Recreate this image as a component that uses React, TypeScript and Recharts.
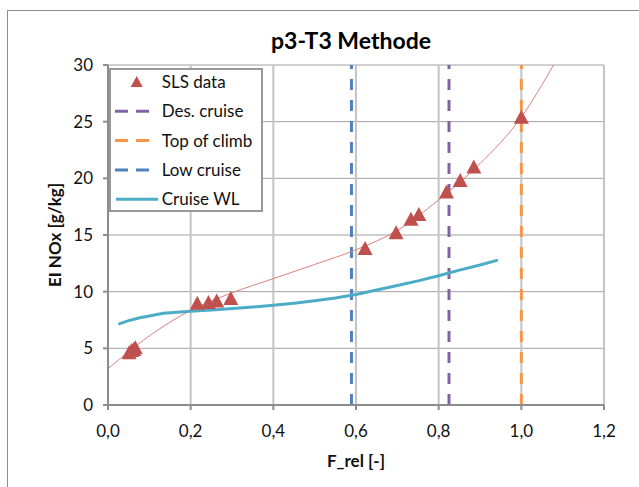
import { ComposedChart, Line, Scatter, XAxis, YAxis, CartesianGrid, Legend } from "recharts";

const FONT = "Lato, 'Open Sans', sans-serif";

const X_TICKS = [0, 0.2, 0.4, 0.6, 0.8, 1.0, 1.2];
const Y_TICKS = [0, 5, 10, 15, 20, 25, 30];

// SLS measurement points
const SLS_X = [0.051, 0.057, 0.062, 0.066, 0.216, 0.243, 0.263, 0.297, 0.622, 0.697, 0.733, 0.752, 0.819, 0.852, 0.885, 1.0];
const SLS_Y = [4.6, 4.8, 4.9, 5.05, 8.98, 9.04, 9.18, 9.4, 13.8, 15.2, 16.4, 16.8, 18.8, 19.8, 21.0, 25.4];

// cruise WL curve
const WL_X = [0.025, 0.05, 0.077, 0.1, 0.134, 0.2, 0.26, 0.335, 0.4, 0.45, 0.5, 0.55, 0.6, 0.65, 0.7, 0.75, 0.8, 0.85, 0.9, 0.943];
const WL_Y = [7.14, 7.45, 7.7, 7.85, 8.1, 8.28, 8.4, 8.6, 8.8, 8.98, 9.2, 9.45, 9.75, 10.15, 10.55, 10.95, 11.4, 11.9, 12.35, 12.78];

// polynomial trend of SLS data
const TREND_X = [0, 0.1, 0.2, 0.3, 0.4, 0.5, 0.6, 0.7, 0.8, 0.9, 1.0, 1.078];
const TREND_Y = [3.2, 6.1, 8.35, 9.9, 11.15, 12.4, 13.7, 15.4, 18.1, 21.3, 25.4, 30];

const LOW_CRUISE_X = 0.589;
const DES_CRUISE_X = 0.825;
const TOP_OF_CLIMB_X = 1.0;

const RED = "#c0504d";
const WL_BLUE = "#4bacc6";
const LOW_BLUE = "#4f81bd";
const PURPLE = "#8064a2";
const ORANGE = "#f79646";

const sls = SLS_X.map((x, i) => ({ x, y: SLS_Y[i] }));
const wl = WL_X.map((x, i) => ({ x, y: WL_Y[i] }));
const trend = TREND_X.map((x, i) => ({ x, y: TREND_Y[i] }));
const vline = (x: number) => [
  { x, y: 0 },
  { x, y: 30 },
];

const fmt = (v: number) => v.toFixed(1).replace(".", ",");

function Triangle(props: any) {
  const { cx, cy } = props;
  if (cx == null || cy == null) return null;
  return <polygon points={`${cx},${cy - 7.5} ${cx - 7.5},${cy + 6.5} ${cx + 7.5},${cy + 6.5}`} fill={RED} />;
}

const LEGEND_ROWS = [
  { name: "SLS data", kind: "tri", color: RED },
  { name: "Des. cruise", kind: "dash", color: PURPLE },
  { name: "Top of climb", kind: "dash", color: ORANGE },
  { name: "Low cruise", kind: "dash", color: LOW_BLUE },
  { name: "Cruise WL", kind: "line", color: WL_BLUE },
];

function LegendBox() {
  return (
    <div style={{ width: 154, height: 144, boxSizing: "border-box", border: "2px solid #999", background: "#fff" }}>
      <svg width={150} height={140} style={{ display: "block" }}>
        {LEGEND_ROWS.map((r, i) => {
          const cy = 12 + i * 29.3;
          return (
            <g key={r.name}>
              {r.kind === "tri" && (
                <polygon points={`${25.7},${cy - 6} ${19.7},${cy + 5} ${31.7},${cy + 5}`} fill={r.color} />
              )}
              {r.kind === "dash" && (
                <line x1={4} x2={38} y1={cy} y2={cy} stroke={r.color} strokeWidth={3} strokeDasharray="13 8" />
              )}
              {r.kind === "line" && <line x1={5} x2={47} y1={cy} y2={cy} stroke={r.color} strokeWidth={3} />}
              <text x={50.7} y={cy + 6} fontSize={17} fontFamily={FONT} fill="#111">
                {r.name}
              </text>
            </g>
          );
        })}
      </svg>
    </div>
  );
}

export default function App() {
  return (
    <div style={{ position: "absolute", left: 0, top: 0, width: 639, height: 487, overflow: "hidden", background: "#fff" }}>
      <div style={{ position: "absolute", left: 7, top: 10, width: 700, height: 600, border: "1px solid #8c8c8c" }} />
      <div
        style={{
          position: "absolute",
          left: 201,
          top: 29,
          width: 300,
          textAlign: "center",
          fontFamily: FONT,
          fontWeight: 700,
          fontSize: 23,
          lineHeight: "23px",
          color: "#000",
        }}
      >
        p3-T3 Methode
      </div>
      <div style={{ position: "absolute", left: 0, top: 0 }}>
        <ComposedChart width={639} height={487} margin={{ top: 65, right: 35, bottom: 0, left: 0 }}>
          <CartesianGrid vertical={false} stroke="#a0a0a0" strokeWidth={1} />
          <CartesianGrid horizontal={false} stroke="#c4c4c4" strokeWidth={2} />
          <XAxis
            type="number"
            dataKey="x"
            domain={[0, 1.2]}
            ticks={X_TICKS}
            tickFormatter={fmt}
            height={82}
            stroke="#8c8c8c"
            strokeWidth={2}
            tickSize={5}
            tickMargin={15}
            tick={{ fontSize: 17, fontFamily: FONT, fill: "#111" }}
            allowDataOverflow
            label={{
              content: () => (
                <text x={356} y={467} textAnchor="middle" fontSize={17} fontWeight={700} fontFamily={FONT} fill="#111">
                  F_rel [-]
                </text>
              ),
            }}
          />
          <YAxis
            type="number"
            dataKey="y"
            domain={[0, 30]}
            ticks={Y_TICKS}
            width={108}
            stroke="#8c8c8c"
            strokeWidth={2}
            tickSize={5}
            tickMargin={10}
            tick={{ fontSize: 17, fontFamily: FONT, fill: "#111" }}
            allowDataOverflow
            label={{
              content: () => (
                <text
                  x={61}
                  y={235}
                  transform="rotate(-90 61 235)"
                  textAnchor="middle"
                  fontSize={17}
                  fontWeight={700}
                  fontFamily={FONT}
                  fill="#111"
                >
                  EI NOx [g/kg]
                </text>
              ),
            }}
          />
          <Legend
            layout="horizontal"
            verticalAlign="middle"
            align="center"
            wrapperStyle={{ position: "absolute", left: 109, top: 68, width: 154, height: 144 }}
            content={() => <LegendBox />}
          />
          <Line data={vline(LOW_CRUISE_X)} dataKey="y" stroke={LOW_BLUE} strokeWidth={3} strokeDasharray="11 10" dot={false} isAnimationActive={false} legendType="none" />
          <Line data={vline(DES_CRUISE_X)} dataKey="y" stroke={PURPLE} strokeWidth={3} strokeDasharray="11 10" dot={false} isAnimationActive={false} legendType="none" />
          <Line data={vline(TOP_OF_CLIMB_X)} dataKey="y" stroke={ORANGE} strokeWidth={3} strokeDasharray="11 10" dot={false} isAnimationActive={false} legendType="none" />
          <Line data={trend} dataKey="y" type="monotone" stroke="#d9827e" strokeWidth={1} dot={false} isAnimationActive={false} legendType="none" />
          <Line data={wl} dataKey="y" type="linear" stroke={WL_BLUE} strokeWidth={3} dot={false} isAnimationActive={false} name="Cruise WL" />
          <Scatter data={sls} dataKey="y" shape={<Triangle />} isAnimationActive={false} name="SLS data" />
        </ComposedChart>
      </div>
    </div>
  );
}
